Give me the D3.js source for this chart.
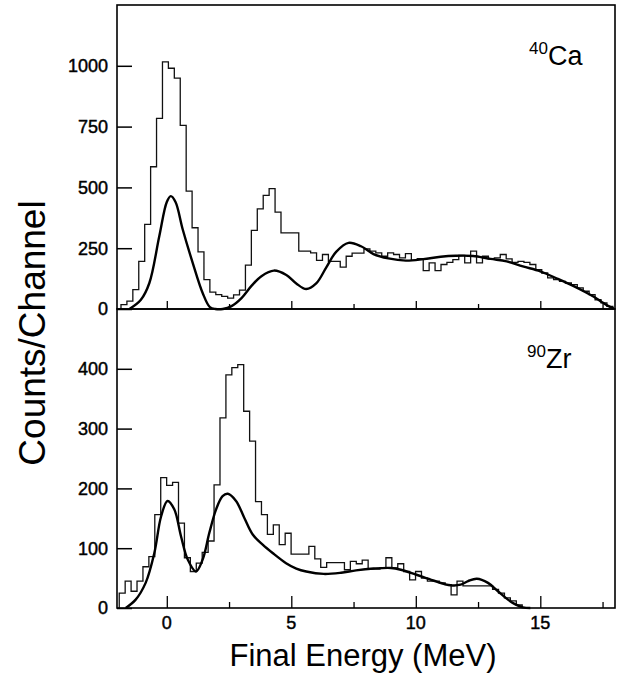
<!DOCTYPE html>
<html>
<head>
<meta charset="utf-8">
<script src="https://cdn.jsdelivr.net/npm/d3@7"></script>
<style>
  body { margin: 0; background: #fff; }
  svg { display: block; font-family: Arial, "Liberation Sans", Helvetica, sans-serif; }
  .tick-label { stroke: #000; stroke-width: 0.45px; }
</style>
</head>
<body>
<div id="chart"></div>
<script>
// histogram bins (counts per channel), bin width in MeV
const binWidth = 0.238;

const caStart = -1.84;
const caCounts = [18, 32, 80, 196, 348, 585, 784, 1016, 990, 949,
    755, 485, 334, 235, 121, 69, 59, 52, 45, 58,
    78, 180, 323, 412, 467, 495, 398, 313, 313, 313,
    238, 238, 231, 200, 224, 196, 196, 172, 217, 230,
    230, 247, 238, 231, 217, 231, 224, 210, 228, 200,
    207, 158, 190, 158, 183, 192, 203, 220, 190, 238,
    190, 217, 206, 210, 224, 206, 192, 196, 192, 183,
    162, 148, 128, 121, 114, 107, 100, 87, 73, 59,
    38, 25, 11];

const zrStart = -1.91;
const zrCounts = [25, 45, 28, 45, 69, 86, 156, 218, 205, 210,
    142, 84, 61, 75, 93, 112, 206, 318, 390, 402,
    407, 329, 279, 178, 156, 123, 139, 106, 125, 90,
    90, 90, 103, 82, 68, 76, 76, 76, 64, 78,
    74, 80, 65, 65, 67, 84, 67, 74, 61, 47,
    61, 50, 45, 45, 42, 39, 22, 45, 37, 37,
    37, 37, 37, 31, 25, 17, 12, 5];

// calculated curves: [energy, counts]
const caCurve = [[-1.5, 0], [-1.04, 38], [-0.7, 107], [-0.3, 300], [0.0, 440], [0.16, 464],
    [0.35, 440], [0.64, 327], [1.04, 190], [1.44, 66], [1.73, 8], [1.95, 0], [2.25, 0], [2.6, 12],
    [3.0, 45], [3.4, 95], [3.8, 135], [4.3, 158], [4.8, 140], [5.2, 105], [5.6, 82], [6.0, 105],
    [6.4, 170], [6.8, 235], [7.3, 272], [7.8, 258], [8.3, 226], [8.9, 208], [9.6, 199],
    [10.3, 205], [11.0, 215], [11.6, 219], [12.3, 218], [13.0, 206], [13.65, 196],
    [14.3, 175], [15.0, 155], [15.7, 124], [16.3, 96], [16.8, 70], [17.15, 50], [17.45, 30],
    [17.7, 14], [17.95, 2]];

const zrCurve = [[-1.65, 0], [-1.25, 14], [-0.85, 42], [-0.5, 92], [-0.23, 153], [0.03, 179],
    [0.3, 165], [0.57, 120], [0.84, 81], [1.17, 61], [1.44, 81], [1.71, 126], [1.98, 165],
    [2.24, 187], [2.45, 191], [2.78, 179], [3.11, 151], [3.45, 123], [3.85, 106], [4.25, 92],
    [4.79, 75], [5.2, 66], [5.6, 61], [6.3, 57], [7.0, 59], [7.6, 63], [8.3, 66], [9.0, 67],
    [9.4, 64], [10.0, 56], [10.7, 46], [11.4, 38], [11.8, 39], [12.1, 45], [12.45, 49],
    [12.9, 42], [13.3, 28], [13.7, 14], [14.0, 6], [14.3, 1], [14.6, 0]];

const caTicks = [0, 250, 500, 750, 1000];
const zrTicks = [0, 100, 200, 300, 400];
const xMajor = [0, 5, 10, 15];
const xMinor = [2.5, 7.5, 12.5, 17.5];

const W = 624, H = 677;
const left = 117, right = 615;
const top1 = 5, mid = 309, bot = 608;

const svg = d3.select('#chart').append('svg')
    .attr('width', W)
    .attr('height', H);

svg.append('rect').attr('width', W).attr('height', H).attr('fill', '#fff');

const x = d3.scaleLinear().domain([-2, 18]).range([left, right]);
const yCa = d3.scaleLinear().domain([0, 1250]).range([mid, top1]);
const yZr = d3.scaleLinear().domain([0, 500]).range([bot, mid]);

function histPoints(start, counts) {
    const pts = [[start, 0]];
    counts.forEach((c, i) => pts.push([start + i * binWidth, c]));
    pts.push([start + counts.length * binWidth, counts[counts.length - 1]]);
    pts.push([start + counts.length * binWidth, 0]);
    return pts;
}

function panel(y, start, counts, curve, ticks, majorLen, minorLen) {
    const g = svg.append('g');

    const step = d3.line()
        .x(d => x(d[0]))
        .y(d => y(d[1]))
        .curve(d3.curveStepAfter);

    g.append('path')
        .datum(histPoints(start, counts))
        .attr('fill', 'none')
        .attr('stroke', '#111')
        .attr('stroke-width', 1.3)
        .attr('d', step);

    const smooth = d3.line()
        .x(d => x(d[0]))
        .y(d => y(d[1]))
        .curve(d3.curveCatmullRom.alpha(0.5));

    g.append('path')
        .datum(curve)
        .attr('fill', 'none')
        .attr('stroke', '#000')
        .attr('stroke-width', 2.4)
        .attr('d', smooth);

    // inward y ticks
    const yAxis = d3.axisRight(y).tickValues(ticks).tickSize(15).tickFormat('');
    g.append('g')
        .attr('transform', 'translate(' + left + ',0)')
        .call(yAxis)
        .call(s => s.select('.domain').remove())
        .selectAll('line').attr('stroke', '#000').attr('stroke-width', 1.5);

    // labels on the outside
    g.selectAll('.ylab')
        .data(ticks)
        .enter()
        .append('text')
        .attr('class', 'tick-label')
        .attr('x', left - 9)
        .attr('y', d => y(d))
        .attr('dy', '0.36em')
        .attr('text-anchor', 'end')
        .attr('font-size', 18)
        .attr('fill', '#000')
        .text(d => d);

    // inward x ticks on bottom edge
    const base = y.range()[0];
    g.append('g')
        .attr('transform', 'translate(0,' + base + ')')
        .call(d3.axisTop(x).tickValues(xMajor).tickSize(majorLen).tickFormat(''))
        .call(s => s.select('.domain').remove())
        .selectAll('line').attr('stroke', '#000').attr('stroke-width', 1.3);
    g.append('g')
        .attr('transform', 'translate(0,' + base + ')')
        .call(d3.axisTop(x).tickValues(xMinor).tickSize(minorLen).tickFormat(''))
        .call(s => s.select('.domain').remove())
        .selectAll('line').attr('stroke', '#000').attr('stroke-width', 1.3);

    // frame
    g.append('rect')
        .attr('x', left)
        .attr('y', y.range()[1])
        .attr('width', right - left)
        .attr('height', y.range()[0] - y.range()[1])
        .attr('fill', 'none')
        .attr('stroke', '#000')
        .attr('stroke-width', 1.6);
    return g;
}

panel(yCa, caStart, caCounts, caCurve, caTicks, 8, 5);
panel(yZr, zrStart, zrCounts, zrCurve, zrTicks, 12, 6);

// x tick labels
svg.selectAll('.xlab')
    .data(xMajor)
    .enter()
    .append('text')
    .attr('class', 'tick-label')
    .attr('x', d => x(d))
    .attr('y', 629)
    .attr('text-anchor', 'middle')
    .attr('font-size', 18)
    .text(d => d);

// nucleus labels
function nucleus(px, py, mass, sym) {
    const t = svg.append('text').attr('x', px).attr('y', py).attr('font-size', 27);
    t.append('tspan').attr('font-size', 17).attr('dy', -11).text(mass);
    t.append('tspan').attr('dy', 11).text(sym);
}
nucleus(529, 65, '40', 'Ca');
nucleus(527, 368, '90', 'Zr');

// axis titles
svg.append('text')
    .attr('x', 363)
    .attr('y', 666)
    .attr('text-anchor', 'middle')
    .attr('font-size', 31)
    .text('Final Energy (MeV)');

svg.append('text')
    .attr('transform', 'translate(45,333) rotate(-90)')
    .attr('text-anchor', 'middle')
    .attr('font-size', 37)
    .text('Counts/Channel');
</script>
</body>
</html>
